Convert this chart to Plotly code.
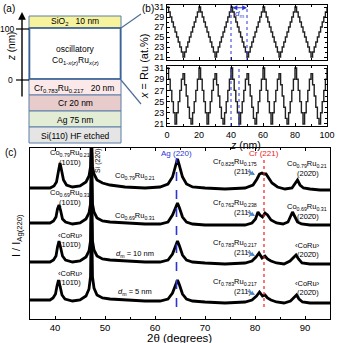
import plotly.graph_objects as go

W = H = 343
FONT = "Liberation Sans, Arial, sans-serif"
BLUE = "#2a35d8"
RED = "#ee2020"
ARROW_BLUE = "#4a86c8"
EDGE = "#5d7fa8"


def px(x):
    return x / W


def py(y):
    return 1 - y / H


# ── (b) Ru content profiles x(z) ─────────────────────────────────────────────
z_nm = list(range(0, 101))
ru_dm20 = [
    31, 30, 29, 28, 27, 26, 25, 24, 23, 22, 21, 22, 23, 24, 25, 26, 27, 28, 29, 30,
    31, 30, 29, 28, 27, 26, 25, 24, 23, 22, 21, 22, 23, 24, 25, 26, 27, 28, 29, 30,
    31, 30, 29, 28, 27, 26, 25, 24, 23, 22, 21, 22, 23, 24, 25, 26, 27, 28, 29, 30,
    31, 30, 29, 28, 27, 26, 25, 24, 23, 22, 21, 22, 23, 24, 25, 26, 27, 28, 29, 30,
    31, 30, 29, 28, 27, 26, 25, 24, 23, 22, 21, 22, 23, 24, 25, 26, 27, 28, 29, 30,
    31,
]
ru_dm10 = [
    31, 29, 27, 25, 23, 21, 23, 25, 27, 29, 30, 28, 26, 24, 22, 21, 23, 25, 27, 29,
    31, 29, 27, 25, 23, 21, 23, 25, 27, 29, 30, 28, 26, 24, 22, 21, 23, 25, 27, 29,
    31, 29, 27, 25, 23, 21, 23, 25, 27, 29, 30, 28, 26, 24, 22, 21, 23, 25, 27, 29,
    31, 29, 27, 25, 23, 21, 23, 25, 27, 29, 30, 28, 26, 24, 22, 21, 23, 25, 27, 29,
    31, 29, 27, 25, 23, 21, 23, 25, 27, 29, 30, 28, 26, 24, 22, 21, 23, 25, 27, 29,
    31,
]

# ── (c) XRD scans (offset intensities, arb. units) ───────────────────────────
tth_079 = [35, 37, 39, 39.8, 40.3, 40.7, 41.0, 41.3, 41.7, 42.3,
           43.5, 45, 46.2, 46.8, 47.1, 47.25, 47.35, 47.5, 47.8, 48.4,
           49.5, 51, 54, 58, 61, 62.6, 63.5, 64.1, 64.5, 64.9,
           65.5, 66.3, 67.5, 70, 74, 78, 79.6, 80.4, 80.9, 81.4,
           81.8, 82.2, 82.7, 83.4, 84.5, 86, 87.4, 88.0, 88.5, 89.0,
           89.7, 91, 93, 95]
int_079 = [131, 131, 131, 133, 137, 148, 156, 149, 139, 134,
           132, 133, 137, 143, 152, 178, 178, 152, 145, 139,
           136, 134, 132, 131, 132, 135, 142, 153, 160, 153,
           142, 135, 132, 131, 130, 131, 134, 140, 145, 146,
           145, 145, 141, 136, 132, 130, 131, 135, 139, 134,
           131, 130, 129, 129]

tth_069 = [35, 37, 39, 39.7, 40.2, 40.5, 40.8, 41.1, 41.5, 42.1,
           43.5, 45, 46.2, 46.8, 47.1, 47.25, 47.35, 47.5, 47.8, 48.4,
           49.5, 51, 54, 58, 61, 62.6, 63.5, 64.1, 64.5, 64.9,
           65.5, 66.3, 67.5, 70, 74, 78, 79.4, 80.1, 80.6, 81.0,
           81.5, 82.0, 82.5, 83.2, 84.3, 85.6, 86.6, 87.1, 87.5, 87.9,
           88.5, 89.3, 91, 93, 95]
int_069 = [96, 96, 96, 98, 102, 110, 114, 109, 100, 97,
           95, 96, 100, 106, 115, 165, 165, 115, 107, 101,
           98, 97, 96, 95, 95, 97, 104, 112, 116, 111,
           102, 97, 95, 94, 94, 94, 96, 100, 107, 104,
           102, 106, 104, 99, 96, 95, 97, 102, 107, 103,
           97, 95, 94, 94, 94]

tth_dm10 = [35, 37, 39, 39.7, 40.2, 40.5, 40.8, 41.1, 41.5, 42.1,
            43.5, 45, 46.2, 46.8, 47.1, 47.25, 47.35, 47.5, 47.8, 48.4,
            49.5, 51, 54, 58, 61, 62.6, 63.5, 64.1, 64.5, 64.9,
            65.5, 66.3, 67.5, 70, 74, 78, 79.4, 80.2, 80.8, 81.4,
            82.0, 82.5, 83.2, 84.3, 85.8, 87.0, 87.7, 88.2, 88.7, 89.4,
            91, 93, 95]
int_dm10 = [57, 57, 57, 59, 63, 72, 78, 72, 63, 59,
            57, 58, 62, 68, 78, 135, 135, 78, 69, 63,
            60, 59, 58, 57, 57, 59, 65, 73, 78, 73,
            64, 59, 57, 56, 55, 56, 58, 62, 66, 61,
            63, 60, 58, 56, 55, 58, 61, 64, 60, 56,
            55, 55, 55]

tth_dm5 = [35, 37, 39, 39.6, 40.1, 40.4, 40.7, 41.0, 41.4, 42.0,
           43.5, 45, 46.2, 46.8, 47.1, 47.25, 47.35, 47.5, 47.8, 48.4,
           49.5, 51, 54, 58, 61, 62.6, 63.5, 64.1, 64.5, 64.9,
           65.5, 66.3, 67.5, 70, 74, 78, 79.4, 80.3, 80.9, 81.5,
           82.0, 82.5, 83.2, 84.3, 85.8, 87.1, 87.8, 88.3, 88.8, 89.5,
           91, 93, 95]
int_dm5 = [19, 19, 19, 21, 25, 33, 39, 33, 24, 20,
           18, 19, 23, 30, 42, 95, 95, 42, 31, 24,
           21, 20, 19, 18, 18, 20, 26, 34, 39, 34,
           25, 20, 18, 17, 16, 17, 19, 23, 27, 23,
           24, 21, 19, 17, 16, 18, 21, 24, 20, 17,
           16, 16, 16]

ag_220 = 64.3
cr_221 = 81.8

fig = go.Figure()

# (b) profiles
fig.add_trace(go.Scatter(x=z_nm, y=ru_dm20, mode="lines", line_shape="hv",
                         line=dict(color="#222", width=1.4), xaxis="x2", yaxis="y2"))
fig.add_trace(go.Scatter(x=z_nm, y=ru_dm10, mode="lines", line_shape="hv",
                         line=dict(color="#222", width=1.4), xaxis="x3", yaxis="y3"))

# (c) scans
for tth, inten in [(tth_079, int_079), (tth_069, int_069),
                   (tth_dm10, int_dm10), (tth_dm5, int_dm5)]:
    fig.add_trace(go.Scatter(x=tth, y=inten, mode="lines",
                             line=dict(color="black", width=2.8), xaxis="x", yaxis="y"))

shapes = []
ann = []


def note(text, x, y, size=7.5, color="black", xref="paper", yref="paper", **kw):
    d = dict(text=text, x=x, y=y, xref=xref, yref=yref, showarrow=False,
             xanchor="center", yanchor="middle",
             font=dict(family=FONT, size=size, color=color))
    d.update(kw)
    ann.append(d)


# ── (a) layer stack ───────────────────────────────────────────────────────────
layers = [  # (top px, bottom px, fill)
    (16, 28, "#f7f29c"),
    (28, 79, "#ffffff"),
    (79, 95, "#fbe9e9"),
    (95, 111, "#e8cbcb"),
    (111, 127, "#e3ecd4"),
    (127, 143, "#e5e5e5"),
]
for top, bot, fill in layers:
    shapes.append(dict(type="rect", xref="paper", yref="paper",
                       x0=px(29), x1=px(121), y0=py(bot), y1=py(top),
                       fillcolor=fill, line=dict(color=EDGE, width=1)))
shapes.append(dict(type="rect", xref="paper", yref="paper",
                   x0=px(29.5), x1=px(120.5), y0=py(79), y1=py(28),
                   line=dict(color="#3b6396", width=1.6)))
# zoom lines to (b)
shapes.append(dict(type="line", xref="paper", yref="paper",
                   x0=px(121), y0=py(28), x1=px(141), y1=py(14),
                   line=dict(color="#4f6f99", width=1.2)))
shapes.append(dict(type="line", xref="paper", yref="paper",
                   x0=px(121), y0=py(80), x1=px(141), y1=py(104),
                   line=dict(color="#4f6f99", width=1.2)))
# z axis ticks
shapes.append(dict(type="line", xref="paper", yref="paper",
                   x0=px(16), y0=py(29), x1=px(29), y1=py(29),
                   line=dict(color="black", width=1.2)))
shapes.append(dict(type="line", xref="paper", yref="paper",
                   x0=px(16), y0=py(80), x1=px(29), y1=py(80),
                   line=dict(color="black", width=1.2)))
ann.append(dict(text="", x=px(22), y=py(12), xref="paper", yref="paper",
                showarrow=True, ax=0, ay=86, arrowhead=2, arrowsize=1.1,
                arrowwidth=1.4, arrowcolor="black"))

note("(a)", px(9), py(8), size=10)
note("100", px(16), py(29), size=8.5, xanchor="right")
note("0", px(15), py(80), size=8.5, xanchor="right")
note("<i>z</i> (nm)", px(12), py(47), size=10, textangle=-90)
note("SiO<sub>2</sub>   10 nm", px(75), py(22), size=8.5)
note("oscillatory", px(75), py(49), size=8.5)
note("Co<sub>1-<i>x</i>(<i>z</i>)</sub>Ru<sub><i>x</i>(<i>z</i>)</sub>", px(75), py(60), size=8.5)
note("Cr<sub>0.783</sub>Ru<sub>0.217</sub>   20 nm", px(74), py(88), size=8.5)
note("Cr 20 nm", px(75), py(103.5), size=8.5)
note("Ag 75 nm", px(75), py(119.5), size=8.5)
note("Si(110) HF etched", px(75), py(135.5), size=8.5)

# ── (b) annotations ───────────────────────────────────────────────────────────
note("(b)", px(148), py(8), size=10)
note("<i>x</i> = Ru (at.%)", px(144), py(66), size=11, textangle=-90)
note("<i>z</i> (nm)", px(245), py(144.5), size=10.5)
for zz in (40, 50):
    shapes.append(dict(type="line", xref="x2", yref="y2 domain", x0=zz, x1=zz, y0=0, y1=1,
                       line=dict(color=BLUE, width=1, dash="dot")))
for zz in (40, 45):
    shapes.append(dict(type="line", xref="x3", yref="y3 domain", x0=zz, x1=zz, y0=0, y1=1,
                       line=dict(color=BLUE, width=1, dash="dot")))
ann.append(dict(text="", x=50, y=30.85, xref="x2", yref="y2", ax=40, ay=30.85,
                axref="x2", ayref="y2", showarrow=True, arrowside="end+start",
                arrowhead=2, arrowsize=0.8, arrowwidth=1.2, arrowcolor=BLUE))
note("<i>d</i><sub>m</sub>", 45, 29.7, size=8, color=BLUE, xref="x2", yref="y2")

# ── (c) annotations ───────────────────────────────────────────────────────────
note("(c)", px(11), py(152), size=10)
note("I / I<sub>Ag(220)</sub>", px(17), py(236), size=11, textangle=-90)
note("2\u03b8 (degrees)", px(180), py(338), size=11.5)
shapes.append(dict(type="line", xref="x", yref="y", x0=ag_220, x1=ag_220, y0=12, y1=161,
                   line=dict(color=BLUE, width=1.6, dash="dash")))
shapes.append(dict(type="line", xref="x", yref="y", x0=cr_221, x1=cr_221, y0=12, y1=160,
                   line=dict(color=RED, width=1.2, dash="dot")))
note("Ag (220)", 64.3, 319 - 153.5, size=8, color=BLUE, xref="x", yref="y")
note("Cr (221)", 81.7, 319 - 153.5, size=8, color=RED, xref="x", yref="y")
note("Si (220)", 48.6, 319 - 161, size=7, xref="x", yref="y", textangle=-90)

TEN = "(101\u03040)"
TWENTY = "(202\u03040)"
CORU = "\u2039CoRu\u203a"
rows = [  # (left top, right top, mid label, Cr-Ru label, label py offsets)
    ("Co<sub>0.79</sub>Ru<sub>0.21</sub>", "Co<sub>0.79</sub>Ru<sub>0.21</sub>",
     "Co<sub>0.79</sub>Ru<sub>0.21</sub>", "Cr<sub>0.825</sub>Ru<sub>0.175</sub>",
     153, 176, 162, 164),
    ("Co<sub>0.69</sub>Ru<sub>0.31</sub>", "Co<sub>0.69</sub>Ru<sub>0.31</sub>",
     "Co<sub>0.69</sub>Ru<sub>0.31</sub>", "Cr<sub>0.762</sub>Ru<sub>0.238</sub>",
     193, 216, 203, 207),
    (CORU, CORU, "<i>d</i><sub>m</sub> = 10 nm", "Cr<sub>0.783</sub>Ru<sub>0.217</sub>",
     235, 254, 243, 245),
    (CORU, CORU, "<i>d</i><sub>m</sub> = 5 nm", "Cr<sub>0.783</sub>Ru<sub>0.217</sub>",
     273, 292, 282, 283),
]
for left, right, mid, crru, y_left, y_mid, y_cr, y_right in rows:
    note(left, 43.0, 319 - y_left, xref="x", yref="y")
    note(TEN, 42.9, 319 - (y_left + 9), size=7.5, xref="x", yref="y")
    note(mid, 56.0, 319 - y_mid, xref="x", yref="y")
    note(crru, 76.0, 319 - y_cr, xref="x", yref="y")
    note("(211)", 77.5, 319 - (y_cr + 9), size=7.5, xref="x", yref="y")
    ann.append(dict(text="", x=80.0, y=319 - (y_cr + 13), xref="x", yref="y",
                    showarrow=True, ax=-9, ay=-5, arrowhead=2, arrowsize=0.7,
                    arrowwidth=1.3, arrowcolor=ARROW_BLUE))
    note(right, 90.4, 319 - y_right, xref="x", yref="y")
    note(TWENTY, 90.6, 319 - (y_right + 9), size=7.5, xref="x", yref="y")

axis_common = dict(showline=True, linecolor="black", linewidth=1, mirror="ticks",
                   ticks="inside", ticklen=3, tickcolor="black", automargin=False,
                   tickfont=dict(family=FONT, size=9.5, color="black"),
                   showgrid=False, zeroline=False)
axis_b = dict(axis_common, tickfont=dict(family=FONT, size=9, color="black"))

fig.update_layout(
    width=W, height=H,
    margin=dict(l=0, r=0, t=0, b=0),
    paper_bgcolor="white", plot_bgcolor="white",
    showlegend=False,
    font=dict(family=FONT, size=9, color="black"),
    xaxis=dict(domain=[px(30), px(330)], anchor="y", range=[35, 95],
               tickvals=[40, 50, 60, 70, 80, 90],
               minor=dict(dtick=5, ticks="inside", ticklen=2, tickcolor="black"),
               **axis_common),
    yaxis=dict(domain=[py(319), py(148)], anchor="x", range=[0, 171],
               showticklabels=False, showline=True, linecolor="black", linewidth=1,
               mirror=True, ticks="", showgrid=False, zeroline=False, automargin=False),
    xaxis2=dict(domain=[px(167), px(327)], anchor="y2", range=[0, 100],
                tickvals=[0, 20, 40, 60, 80, 100], showticklabels=False,
                minor=dict(dtick=10, ticks="inside", ticklen=2, tickcolor="black"),
                **axis_b),
    yaxis2=dict(domain=[py(60), py(5)], anchor="x2", range=[20.4, 31.4],
                tickvals=[21, 23, 25, 27, 29, 31],
                minor=dict(dtick=1, ticks="inside", ticklen=2, tickcolor="black"),
                **axis_b),
    xaxis3=dict(domain=[px(167), px(327)], anchor="y3", range=[0, 100],
                tickvals=[0, 20, 40, 60, 80, 100],
                minor=dict(dtick=10, ticks="inside", ticklen=2, tickcolor="black"),
                **axis_b),
    yaxis3=dict(domain=[py(126), py(66)], anchor="x3", range=[20.64, 31.36],
                tickvals=[21, 23, 25, 27, 29, 31],
                minor=dict(dtick=1, ticks="inside", ticklen=2, tickcolor="black"),
                **axis_b),
    shapes=shapes,
    annotations=ann,
)

fig.write_html("out.html", config={"displayModeBar": False},
               post_script="document.body.style.margin='0';")
